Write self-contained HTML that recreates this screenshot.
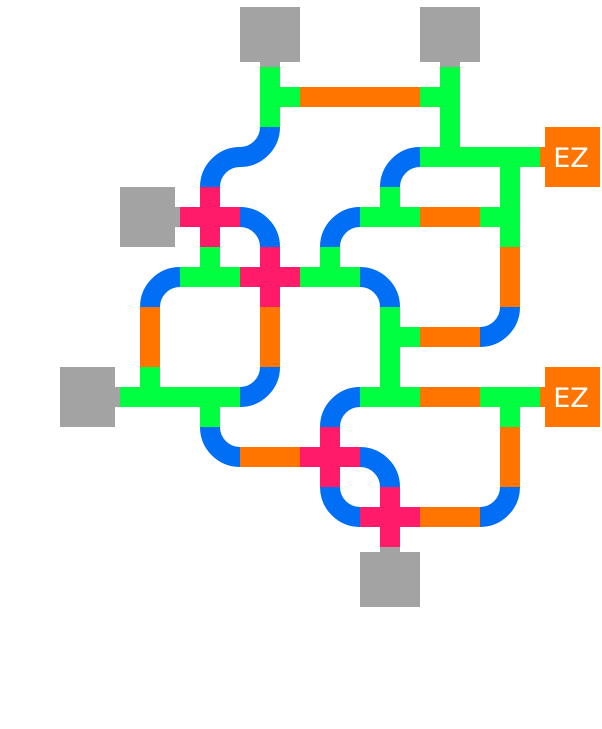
<!DOCTYPE html>
<html><head><meta charset="utf-8"><style>
html,body{margin:0;padding:0;background:#fff;width:602px;height:729px;overflow:hidden}
svg{display:block}
text{font-family:"DejaVu Sans","Liberation Sans",sans-serif}
</style></head><body>
<svg id="s" width="602" height="729" xmlns="http://www.w3.org/2000/svg">
<g id="g"></g>
<rect x="240" y="7" width="60" height="55" fill="#a3a3a3"/><rect x="260" y="62" width="20" height="5" fill="#a3a3a3"/>
<rect x="420" y="7" width="60" height="55" fill="#a3a3a3"/><rect x="440" y="62" width="20" height="5" fill="#a3a3a3"/>
<rect x="120" y="187" width="55" height="60" fill="#a3a3a3"/><rect x="175" y="207" width="5" height="20" fill="#a3a3a3"/>
<rect x="60" y="367" width="55" height="60" fill="#a3a3a3"/><rect x="115" y="387" width="5" height="20" fill="#a3a3a3"/>
<rect x="360" y="552" width="60" height="55" fill="#a3a3a3"/><rect x="380" y="547" width="20" height="5" fill="#a3a3a3"/>
<rect x="545" y="127" width="55" height="60" fill="#ff7500"/><rect x="540" y="147" width="5" height="20" fill="#ff7500"/>
<rect x="545" y="367" width="55" height="60" fill="#ff7500"/><rect x="540" y="387" width="5" height="20" fill="#ff7500"/>
<text x="571" y="167" font-size="27" fill="#fff" text-anchor="middle">EZ</text>
<text x="571" y="407" font-size="27" fill="#fff" text-anchor="middle">EZ</text>
</svg>
<script>
var G='#00ff40',O='#ff7500',B='#006ef5',P='#ff1a6a';
var g=document.getElementById('g'),h='';
function cx(c){return 30+60*c}function cy(r){return 37+60*r}
function seg(c,r,dirs,col){var x=cx(c),y=cy(r);
 dirs.split('').forEach(function(d){
  if(d=='t')h+='<rect x="'+(x-10)+'" y="'+(y-30)+'" width="20" height="40" fill="'+col+'"/>';
  if(d=='b')h+='<rect x="'+(x-10)+'" y="'+(y-10)+'" width="20" height="40" fill="'+col+'"/>';
  if(d=='l')h+='<rect x="'+(x-30)+'" y="'+(y-10)+'" width="40" height="20" fill="'+col+'"/>';
  if(d=='r')h+='<rect x="'+(x-10)+'" y="'+(y-10)+'" width="40" height="20" fill="'+col+'"/>';
 });}
function curve(c,r,a,b){var x=cx(c),y=cy(r),k=0.5523*30;
 var p={t:[x,y-30],b:[x,y+30],l:[x-30,y],r:[x+30,y]};
 var s=p[a],e=p[b],c1,c2;
 if(a=='t'||a=='b'){c1=[s[0],s[1]+(a=='t'?k:-k)];c2=[e[0]+(b=='l'?k:-k),e[1]];}
 else{c1=[s[0]+(a=='l'?k:-k),s[1]];c2=[e[0],e[1]+(b=='t'?k:-k)];}
 h+='<path d="M'+s[0]+' '+s[1]+' C'+c1[0]+' '+c1[1]+' '+c2[0]+' '+c2[1]+' '+e[0]+' '+e[1]+'" fill="none" stroke="'+B+'" stroke-width="20"/>';}
seg(4,1,'tbr',G);seg(5,1,'lr',O);seg(6,1,'lr',O);seg(7,1,'tbl',G);
curve(3,2,'r','b');curve(4,2,'t','l');curve(6,2,'r','b');seg(7,2,'tlr',G);seg(8,2,'lrb',G);
seg(3,3,'tblr',P);curve(4,3,'l','b');curve(5,3,'r','b');seg(6,3,'lrt',G);seg(7,3,'lr',O);seg(8,3,'ltb',G);
curve(2,4,'r','b');seg(3,4,'tlr',G);seg(4,4,'tblr',P);seg(5,4,'lrt',G);curve(6,4,'l','b');seg(8,4,'tb',O);
seg(2,5,'tb',O);seg(4,5,'tb',O);seg(6,5,'tbr',G);seg(7,5,'lr',O);curve(8,5,'t','l');
seg(2,6,'tlr',G);seg(3,6,'lrb',G);curve(4,6,'t','l');curve(5,6,'r','b');seg(6,6,'tlr',G);seg(7,6,'lr',O);seg(8,6,'lrb',G);
curve(3,7,'t','r');seg(4,7,'lr',O);seg(5,7,'tblr',P);curve(6,7,'l','b');seg(8,7,'tb',O);
curve(5,8,'t','r');seg(6,8,'tblr',P);seg(7,8,'lr',O);curve(8,8,'t','l');
g.innerHTML=h;
</script>
</body></html>
